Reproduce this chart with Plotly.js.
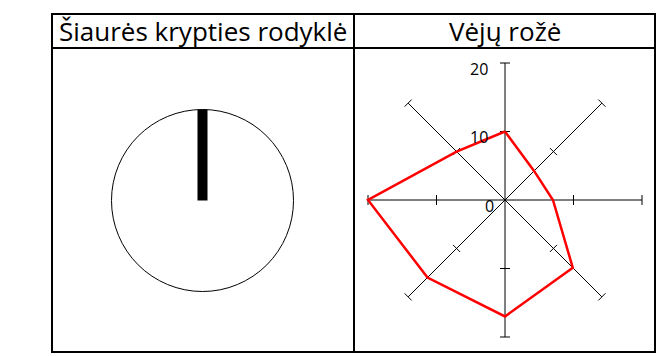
<!DOCTYPE html>
<html>
<head>
<meta charset="utf-8">
<script src="https://cdn.plot.ly/plotly-3.0.1.min.js"></script>
<style>
  html, body { margin: 0; padding: 0; background: #fff; }
  #chart { width: 663px; height: 356px; }
</style>
</head>
<body>
<div id="chart"></div>
<script>
// duomenys
const panelTitles = ["Šiaurės krypties rodyklė", "Vėjų rožė"];
const directions = ["N", "NE", "E", "SE", "S", "SW", "W", "NW"];
const directionAngles = [0, 45, 90, 135, 180, 225, 270, 315];
const windValues = [10, 6, 7, 14, 17, 16, 20, 10];
const radialTicks = [0, 10, 20];
const radialMax = 20;
const northArrow = [1];

window.addEventListener('load', function() {
  const W = 663, H = 356;
  const px = v => v / W;
  const py = v => 1 - v / H;

  // rodyklė (kairė)
  const lc = { x: 202.5, y: 200.5, s: 91 };
  // rožė (dešinė)
  const rc = { x: 505, y: 200, s: 137 / radialMax };
  const top = 49, bottom = 352;

  const toXY = (r, deg) => {
    const a = deg * Math.PI / 180;
    return [r * Math.sin(a), r * Math.cos(a)];
  };

  // ašys
  const spokeX = [], spokeY = [];
  directionAngles.slice(0, 4).forEach(d => {
    const p1 = toXY(radialMax, d), p2 = toXY(radialMax, d + 180);
    spokeX.push(p1[0], p2[0], null);
    spokeY.push(p1[1], p2[1], null);
  });

  // padalos
  const half = 5 / rc.s;
  const tickX = [], tickY = [];
  directionAngles.forEach(d => {
    radialTicks.filter(t => t > 0).forEach(t => {
      const c = toXY(t, d), n = toXY(half, d + 90);
      tickX.push(c[0] - n[0], c[0] + n[0], null);
      tickY.push(c[1] - n[1], c[1] + n[1], null);
    });
  });

  const roseX = [], roseY = [];
  windValues.forEach((v, i) => {
    const p = toXY(v, directionAngles[i]);
    roseX.push(p[0]); roseY.push(p[1]);
  });
  roseX.push(roseX[0]); roseY.push(roseY[0]);

  const traces = [
    { x: [0], y: northArrow, type: "bar", width: 10 / lc.s, marker: { color: "#000", line: { width: 0 } },
      xaxis: "x", yaxis: "y", hoverinfo: "skip" },
    { x: spokeX, y: spokeY, type: "scatter", mode: "lines", line: { color: "#000", width: 1 },
      xaxis: "x2", yaxis: "y2", hoverinfo: "skip" },
    { x: tickX, y: tickY, type: "scatter", mode: "lines", line: { color: "#000", width: 1 },
      xaxis: "x2", yaxis: "y2", hoverinfo: "skip" },
    { x: roseX, y: roseY, type: "scatter", mode: "lines", line: { color: "#ff0000", width: 2.5 },
      xaxis: "x2", yaxis: "y2", text: directions, hoverinfo: "skip" }
  ];

  const hidden = { visible: false, fixedrange: true };

  const annotations = radialTicks.map(t => ({
    xref: "x2", yref: "y2",
    x: (t === 0 ? -9 : -15) / rc.s, y: t - 6 / rc.s,
    text: String(t), showarrow: false, xanchor: "right", yanchor: "middle",
    font: { family: "'Open Sans', sans-serif", size: 16, color: "#000" }
  }));
  panelTitles.forEach((t, i) => {
    annotations.push({
      xref: "paper", yref: "paper",
      x: px(i === 0 ? 203 : 504.5), y: py(31),
      text: t, showarrow: false, xanchor: "center", yanchor: "middle",
      font: { family: "'Open Sans', sans-serif", size: 26, color: "#000" }
    });
  });

  const lineSt = { color: "#000", width: 2 };
  const layout = {
    width: W, height: H,
    margin: { l: 0, r: 0, t: 0, b: 0 },
    paper_bgcolor: "#fff", plot_bgcolor: "rgba(0,0,0,0)",
    showlegend: false,
    xaxis: Object.assign({ domain: [px(53), px(353)],
      range: [(53 - lc.x) / lc.s, (353 - lc.x) / lc.s] }, hidden),
    yaxis: Object.assign({ domain: [1 - bottom / H, 1 - top / H],
      range: [-(bottom - lc.y) / lc.s, (lc.y - top) / lc.s] }, hidden),
    xaxis2: Object.assign({ domain: [px(355), px(654)],
      range: [(355 - rc.x) / rc.s, (654 - rc.x) / rc.s] }, hidden),
    yaxis2: Object.assign({ domain: [1 - bottom / H, 1 - top / H],
      range: [-(bottom - rc.y) / rc.s, (rc.y - top) / rc.s] }, hidden),
    shapes: [
      { type: "circle", xref: "x", yref: "y", x0: -1, x1: 1, y0: -1, y1: 1,
        line: { color: "#000", width: 1 }, layer: "below" },
      { type: "rect", xref: "paper", yref: "paper", x0: px(52), x1: px(655), y0: py(352), y1: py(14), line: lineSt },
      { type: "line", xref: "paper", yref: "paper", x0: px(52), x1: px(655), y0: py(48), y1: py(48), line: lineSt },
      { type: "line", xref: "paper", yref: "paper", x0: px(354), x1: px(354), y0: py(14), y1: py(352), line: lineSt }
    ],
    annotations: annotations
  };

  Plotly.newPlot("chart", traces, layout, { displayModeBar: false, staticPlot: true });
});
</script>
</body>
</html>
